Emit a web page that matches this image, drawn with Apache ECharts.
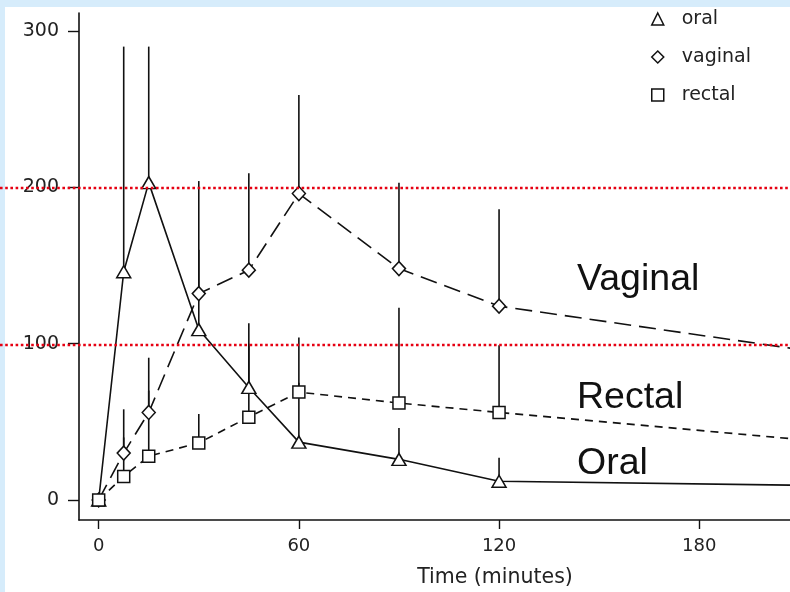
<!DOCTYPE html>
<html>
<head>
<meta charset="utf-8">
<script src="https://cdn.jsdelivr.net/npm/echarts@6/dist/echarts.min.js"></script>
<style>
  html, body { margin: 0; padding: 0; background: #d6ecfb; }
  #chart { width: 790px; height: 592px; }
</style>
</head>
<body>
<div id="chart"></div>
<script>
// Sampling times (minutes)
const times = [0, 7.5, 15, 30, 45, 60, 90, 120, 240];

// Mean concentration per route
const oralMean    = [0, 146, 203, 109, 72, 37, 26, 12, 8.6];
const vaginalMean = [0, 30, 56, 132, 147, 196, 148, 124, 87];
const rectalMean  = [0, 15, 28, 36.5, 53, 69, 62, 56, 33];

// Upper end of the error bar (mean + SD) at the first eight times
const oralUpper    = [0, 290, 290, 160, 113, 75, 46, 27];
const vaginalUpper = [0, 58, 91, 204, 209, 259, 203, 186];
const rectalUpper  = [0, 40, 70, 55, 100, 104, 123, 99];

// Axis ticks and reference levels
const xTicks = [0, 60, 120, 180];
const yTicks = [0, 100, 200, 300];
const refLevels = [200, 100];

const routeNames = ['oral', 'vaginal', 'rectal'];
const curveLabels = ['Vaginal', 'Rectal', 'Oral'];
const xAxisTitle = 'Time (minutes)';

const pairs = (xs, ys) => ys.map((y, i) => [xs[i], y]);
const bars = (xs, means, uppers) => uppers.map((u, i) => [xs[i], means[i], u]);

const chart = echarts.init(document.getElementById('chart'), null, { renderer: 'canvas' });

const markerStyle = { color: '#ffffff', borderColor: '#111', borderWidth: 1.5 };
const sansFont = '"Liberation Sans", Arial, sans-serif';
const wideFont = '"DejaVu Sans", sans-serif';

function errorBarSeries(name, data) {
  return {
    type: 'custom',
    name: name + ' sd',
    z: 1,
    silent: true,
    clip: true,
    data: data,
    renderItem: function (params, api) {
      const p0 = api.coord([api.value(0), api.value(1)]);
      const p1 = api.coord([api.value(0), api.value(2)]);
      return {
        type: 'line',
        shape: { x1: p0[0], y1: p0[1], x2: p1[0], y2: p1[1] },
        style: { stroke: '#111', lineWidth: 1.6 }
      };
    }
  };
}

function lineSeries(name, values, symbol, size, dash) {
  return {
    type: 'line',
    name: name,
    z: 3,
    clip: true,
    data: pairs(times, values),
    symbol: symbol,
    symbolSize: size,
    showAllSymbol: true,
    itemStyle: markerStyle,
    lineStyle: { color: '#111', width: 1.6, type: dash },
    emphasis: { disabled: true },
    animation: false
  };
}

function curveLabel(text, top) {
  return {
    type: 'text', left: 577, top: top, silent: true,
    style: { text: text, fill: '#111', font: '37.5px ' + sansFont }
  };
}

const option = {
  backgroundColor: '#d6ecfb',
  animation: false,
  grid: { left: 79, right: 0, top: 13, bottom: 72, containLabel: false },
  xAxis: {
    type: 'value',
    min: -5.9,
    max: 207.2,
    splitLine: { show: false },
    axisLine: { show: true, onZero: false, lineStyle: { color: '#111', width: 1.6 } },
    axisTick: { show: true, customValues: xTicks, length: 9, lineStyle: { color: '#111', width: 1.4 } },
    axisLabel: {
      customValues: xTicks,
      margin: 17,
      color: '#222',
      fontFamily: wideFont,
      fontSize: 18
    }
  },
  yAxis: {
    type: 'value',
    min: -12.8,
    max: 311.5,
    splitLine: { show: false },
    axisLine: { show: true, onZero: false, lineStyle: { color: '#111', width: 1.6 } },
    axisTick: { show: true, customValues: yTicks, length: 11, lineStyle: { color: '#111', width: 1.4 } },
    axisLabel: {
      customValues: yTicks,
      margin: 20,
      color: '#222',
      fontFamily: wideFont,
      fontSize: 19
    }
  },
  legend: {
    orient: 'vertical',
    left: 646,
    top: 3,
    itemWidth: 12,
    itemHeight: 12,
    itemGap: 16,
    selectedMode: false,
    itemStyle: { color: '#ffffff', borderColor: '#111', borderWidth: 1.5 },
    textStyle: {
      color: '#222',
      fontFamily: wideFont,
      fontSize: 19,
      lineHeight: 22,
      padding: [0, 0, 0, 13]
    },
    data: [
      { name: routeNames[0], icon: 'triangle' },
      { name: routeNames[1], icon: 'diamond' },
      { name: routeNames[2], icon: 'rect' }
    ]
  },
  graphic: [
    {
      type: 'rect',
      z: -10,
      silent: true,
      shape: { x: 5, y: 7, width: 785, height: 585 },
      style: { fill: '#ffffff' }
    },
    {
      type: 'text',
      x: 495,
      y: 578,
      silent: true,
      style: {
        text: xAxisTitle,
        fill: '#222',
        align: 'center',
        verticalAlign: 'middle',
        font: '20.5px ' + wideFont
      }
    },
    curveLabel(curveLabels[0], 261),
    curveLabel(curveLabels[1], 379),
    curveLabel(curveLabels[2], 445)
  ],
  series: [
    errorBarSeries(routeNames[0], bars(times, oralMean, oralUpper)),
    errorBarSeries(routeNames[1], bars(times, vaginalMean, vaginalUpper)),
    errorBarSeries(routeNames[2], bars(times, rectalMean, rectalUpper)),
    lineSeries(routeNames[0], oralMean, 'triangle', [14, 12], 'solid'),
    lineSeries(routeNames[1], vaginalMean, 'diamond', [13, 14], [17, 8]),
    lineSeries(routeNames[2], rectalMean, 'rect', [12, 12], [8, 6])
  ]
};

chart.setOption(option);

// Dotted red reference levels spanning the full width, placed through the value axis
const refGraphics = refLevels.map(function (v, i) {
  const y = Math.round(chart.convertToPixel({ yAxisIndex: 0 }, v)) + 1;
  return {
    id: 'ref' + i,
    type: 'line',
    z: 100,
    silent: true,
    shape: { x1: 0, y1: y, x2: 790, y2: y },
    style: { stroke: '#e60012', lineWidth: 2.6, lineDash: [2.6, 2.6] }
  };
});
chart.setOption({ graphic: option.graphic.concat(refGraphics) });
</script>
</body>
</html>
